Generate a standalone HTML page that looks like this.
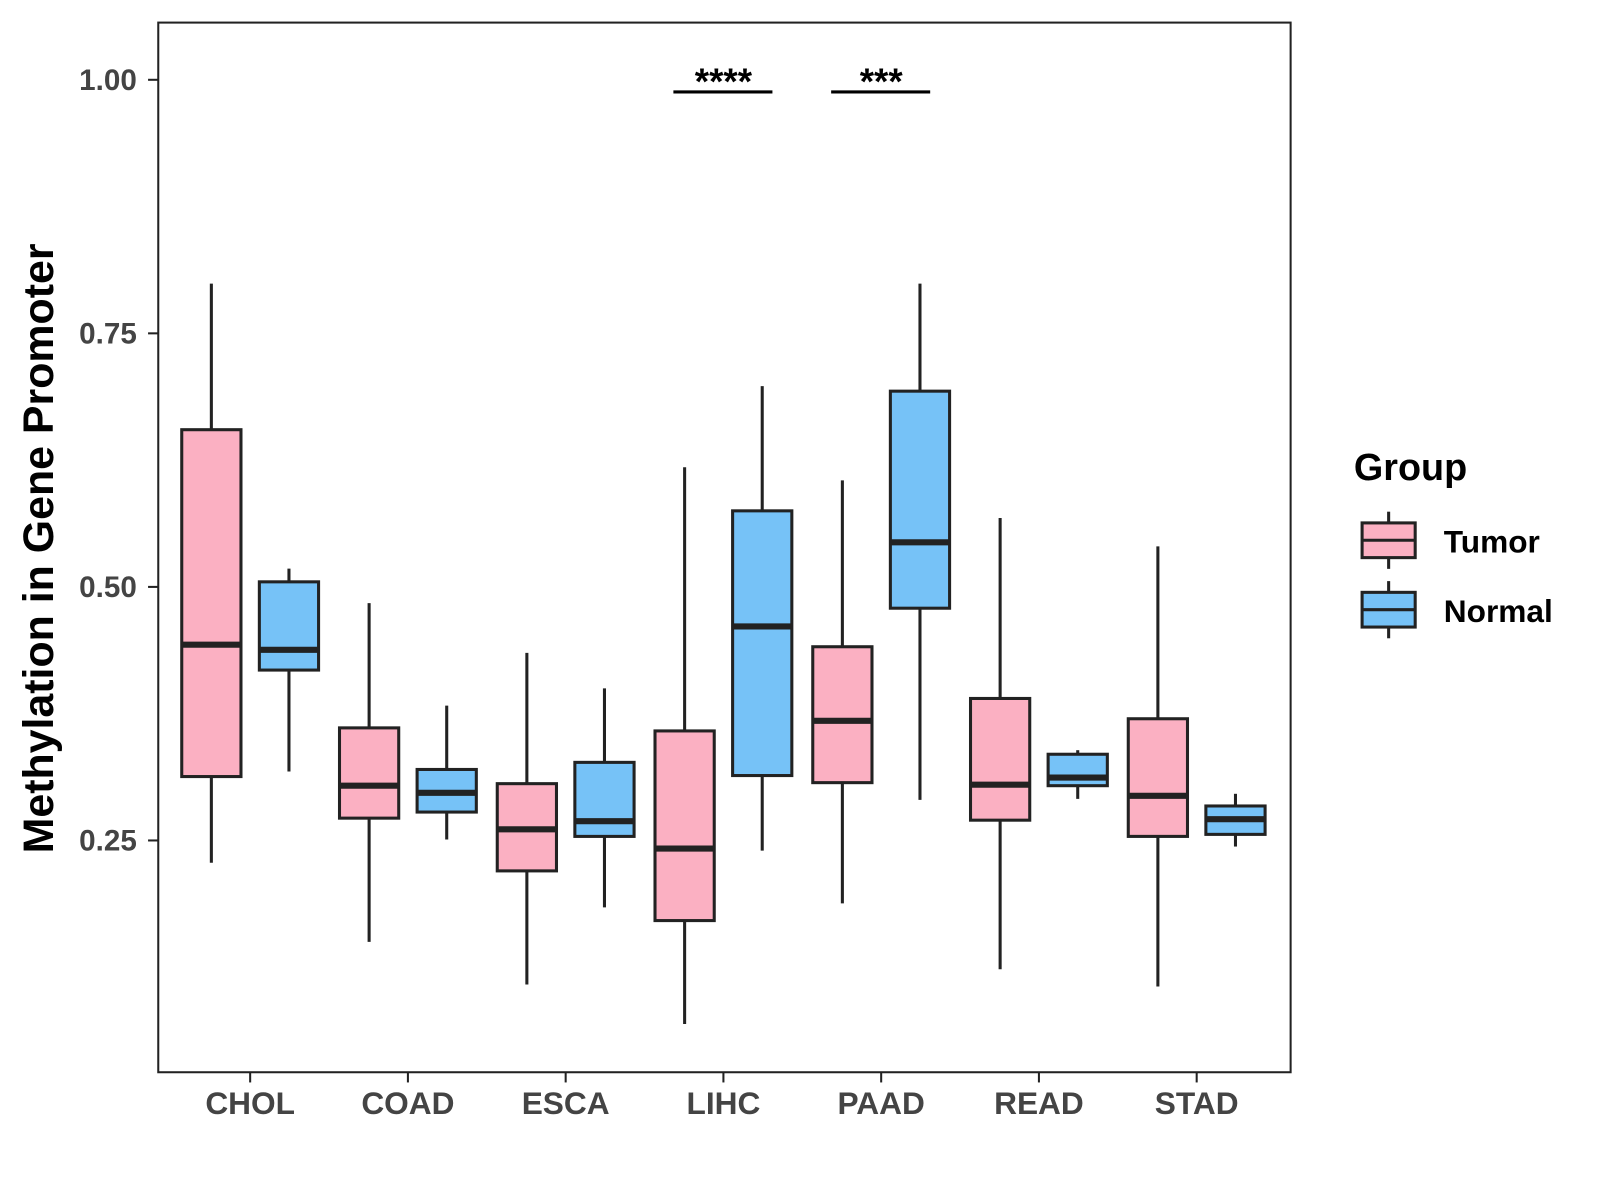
<!DOCTYPE html>
<html><head><meta charset="utf-8"><style>
html,body{margin:0;padding:0;background:#fff;}
svg{display:block;font-family:"Liberation Sans",Arial,sans-serif;}
</style></head><body>
<svg id="chart" width="1600" height="1200" viewBox="0 0 1567 1175" xmlns="http://www.w3.org/2000/svg">
<rect x="155" y="22" width="1109" height="1028" fill="#fff" stroke="#222" stroke-width="2"/>
<g id="marks"></g>
<text transform="translate(52,537) rotate(-90)" text-anchor="middle" font-size="42" font-weight="bold" fill="#000">Methylation in Gene Promoter</text>
<g transform="translate(-4,-2)">
<text x="1330" y="472" font-size="37" font-weight="bold" fill="#000">Group</text>
<g>
<line x1="1364" y1="503" x2="1364" y2="514" stroke="#222" stroke-width="3"/>
<line x1="1364" y1="548" x2="1364" y2="559" stroke="#222" stroke-width="3"/>
<rect x="1338" y="514" width="52" height="34" fill="#FBB0C2" stroke="#222" stroke-width="3"/>
<line x1="1338" y1="531" x2="1390" y2="531" stroke="#222" stroke-width="3"/>
<text x="1418" y="543" font-size="31" font-weight="bold" fill="#000">Tumor</text></g>
<g>
<line x1="1364" y1="571" x2="1364" y2="582" stroke="#222" stroke-width="3"/>
<line x1="1364" y1="616" x2="1364" y2="627" stroke="#222" stroke-width="3"/>
<rect x="1338" y="582" width="52" height="34" fill="#76C2F7" stroke="#222" stroke-width="3"/>
<line x1="1338" y1="599" x2="1390" y2="599" stroke="#222" stroke-width="3"/>
<text x="1418" y="611" font-size="31" font-weight="bold" fill="#000">Normal</text></g>
</g>
</svg>
<script>
const categories=["CHOL","COAD","ESCA","LIHC","PAAD","READ","STAD"];
const tumorStats=[[0.228,0.313,0.443,0.655,0.799],[0.150,0.272,0.304,0.361,0.484],[0.108,0.220,0.261,0.306,0.435],[0.069,0.171,0.242,0.358,0.618],[0.188,0.307,0.368,0.441,0.605],[0.123,0.270,0.305,0.390,0.568],[0.106,0.254,0.294,0.370,0.540]];
const normalStats=[[0.318,0.418,0.438,0.505,0.518],[0.251,0.278,0.297,0.320,0.383],[0.184,0.254,0.269,0.327,0.400],[0.240,0.314,0.461,0.575,0.698],[0.290,0.479,0.544,0.693,0.799],[0.291,0.304,0.312,0.335,0.339],[0.244,0.256,0.271,0.284,0.296]];
const yTicks=[0.25,0.50,0.75,1.00];
const yTickLabels=["0.25","0.50","0.75","1.00"];
const sigCategories=["LIHC","PAAD"];
const sigLabels=["****","***"];
const sigY=0.988;

const NS="http://www.w3.org/2000/svg";
const g=document.getElementById('marks');
function y(v){return 823-(v-0.25)*993.3;}
function x(i){return 245+i*154.5;}
function el(tag,attrs,parent){const e=document.createElementNS(NS,tag);for(const k in attrs)e.setAttribute(k,attrs[k]);(parent||g).appendChild(e);return e;}

yTicks.forEach((t,i)=>{
  const tk=el('line',{x1:145,x2:155,y1:y(t),y2:y(t),stroke:'#222','stroke-width':2});
  
  
  const tl=el('text',{x:134,y:y(t)+10,'text-anchor':'end','font-size':29,'font-weight':'bold',fill:'#444'});
  tl.textContent=yTickLabels[i];
  
  
});
categories.forEach((c,i)=>{
  const tk=el('line',{x1:x(i),x2:x(i),y1:1050,y2:1060,stroke:'#222','stroke-width':2});
  
  
  const tl=el('text',{x:x(i),y:1091,'text-anchor':'middle','font-size':31,'font-weight':'bold',fill:'#444'});
  tl.textContent=c;
  
  
});
function box(cx,s,fill,name){
  const b=el('g',{});
  
  
  el('line',{x1:cx,x2:cx,y1:y(s[0]),y2:y(s[4]),stroke:'#222','stroke-width':3},b);
  el('rect',{x:cx-29,y:y(s[3]),width:58,height:y(s[1])-y(s[3]),fill:fill,stroke:'#222','stroke-width':3},b);
  el('line',{x1:cx-29,x2:cx+29,y1:y(s[2]),y2:y(s[2]),stroke:'#222','stroke-width':6},b);
}
categories.forEach((c,i)=>{
  box(x(i)-38,tumorStats[i],'#FBB0C2','box-tumor-'+c.toLowerCase());
  box(x(i)+38,normalStats[i],'#76C2F7','box-normal-'+c.toLowerCase());
});
sigCategories.forEach((c,k)=>{
  const i=categories.indexOf(c);
  const ln=el('line',{x1:x(i)-49,x2:x(i)+48,y1:y(sigY),y2:y(sigY),stroke:'#000','stroke-width':3});
  
  
  const t=el('text',{x:x(i),y:y(sigY)+2,'text-anchor':'middle','font-size':36,'font-weight':'bold',fill:'#000'});
  t.textContent=sigLabels[k];
  
  
});
</script>
</body></html>
